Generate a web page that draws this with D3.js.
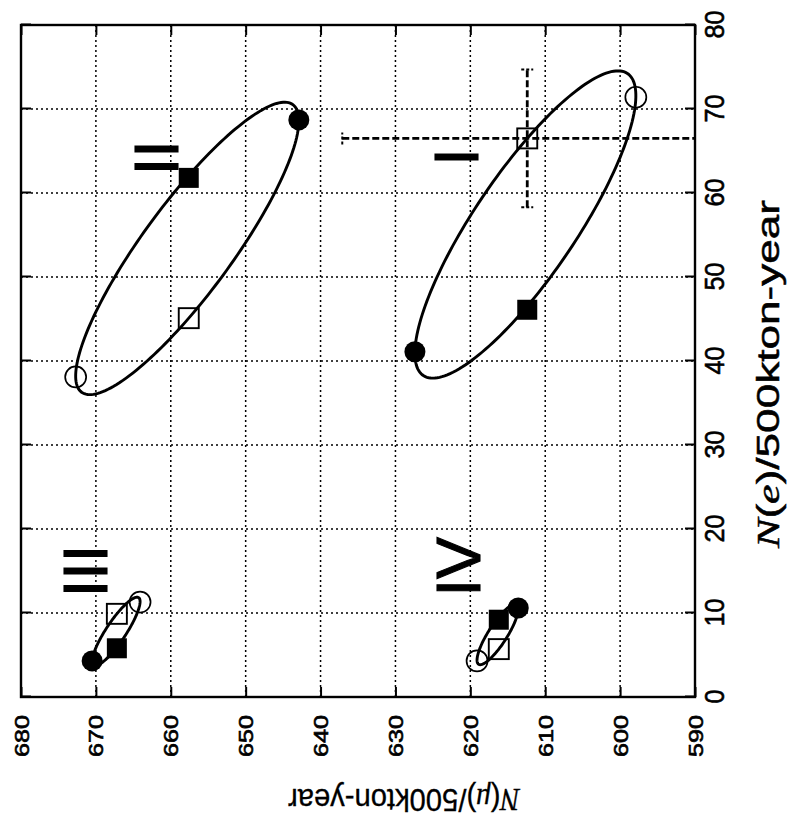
<!DOCTYPE html>
<html>
<head>
<meta charset="utf-8">
<script src="https://cdn.jsdelivr.net/npm/d3@7"></script>
<style>
  html, body { margin: 0; padding: 0; background: #fff; }
  svg { display: block; }
</style>
</head>
<body>
<svg id="chart" width="793" height="831"></svg>
<script>
// ---- axis ticks ----
const neTicks = [0, 10, 20, 30, 40, 50, 60, 70, 80];
const nmuTicks = [590, 600, 610, 620, 630, 640, 650, 660, 670, 680];

// ---- scenarios (one entry per ellipse) ----
const scenarioLabels = ["I", "II", "III", "IV"];
const labelNe  = [64.3, 64.2, 15.0, 15.5];
const labelNmu = [619.0, 659.0, 668.5, 618.7];

// open circle markers
const openCircleNe  = [71.4, 38.1, 11.3, 4.3];
const openCircleNmu = [597.9, 672.7, 664.1, 619.1];
// open square markers
const openSquareNe  = [66.5, 45.1, 9.9, 5.7];
const openSquareNmu = [612.4, 657.6, 667.2, 616.2];
// filled circle markers
const filledCircleNe  = [41.1, 68.7, 4.3, 10.6];
const filledCircleNmu = [627.4, 642.9, 670.5, 613.6];
// filled square markers
const filledSquareNe  = [46.1, 61.8, 5.8, 9.2];
const filledSquareNmu = [612.4, 657.6, 667.2, 616.2];

// statistical error bars on the open square of scenario I
const errScenario = [0];
const errNe  = [8.2];
const errNmu = [24.7];

// ---- layout ----
const svg = d3.select("#chart");
const W = 672;   // N(e) extent
const H = 674;   // N(mu) extent

const x = d3.scaleLinear().domain([0, 80]).range([0, W]);
const y = d3.scaleLinear().domain([590, 680]).range([H, 0]);

// the whole figure is laid on its side
const g = svg.append("g").attr("transform", "translate(21,697) rotate(-90)");

g.append("clipPath").attr("id", "plotClip")
  .append("rect").attr("x", 0).attr("y", 0).attr("width", W).attr("height", H);

// dotted grid
const grid = g.append("g")
  .attr("stroke", "#000").attr("stroke-width", 1.5)
  .attr("stroke-dasharray", "2,3").attr("fill", "none");
grid.selectAll("line.gx").data(neTicks.slice(1, -1)).join("line")
  .attr("class", "gx")
  .attr("x1", d => x(d)).attr("x2", d => x(d))
  .attr("y1", 0).attr("y2", H);
grid.selectAll("line.gy").data(nmuTicks.slice(1, -1)).join("line")
  .attr("class", "gy")
  .attr("x1", 0).attr("x2", W)
  .attr("y1", d => y(d)).attr("y2", d => y(d));

// axes with inward ticks on all four sides
function styleAxis(sel) {
  sel.select(".domain").remove();
  sel.selectAll(".tick line").attr("stroke", "#000").attr("stroke-width", 2);
}
const axB = g.append("g").attr("transform", `translate(0,${H})`)
  .call(d3.axisBottom(x).tickValues(neTicks).tickSizeInner(-10).tickSizeOuter(0).tickFormat(d3.format("d")))
  .call(styleAxis);
axB.selectAll(".tick text")
  .attr("y", 29).attr("dy", null)
  .attr("fill", "#000").attr("stroke", "#000").attr("stroke-width", 0.6)
  .style("font-family", "'Liberation Sans', Arial, sans-serif")
  .style("font-size", "27px")
  .attr("textLength", d => String(d).length * 14)
  .attr("lengthAdjust", "spacingAndGlyphs");

g.append("g")
  .call(d3.axisTop(x).tickValues(neTicks).tickSizeInner(-10).tickSizeOuter(0).tickFormat(""))
  .call(styleAxis);

const axL = g.append("g")
  .call(d3.axisLeft(y).tickValues(nmuTicks).tickSizeInner(-10).tickSizeOuter(0).tickFormat(d3.format("d")))
  .call(styleAxis);
axL.selectAll(".tick text")
  .attr("x", -18).attr("y", 7).attr("dy", null)
  .attr("fill", "#000").attr("stroke", "#000").attr("stroke-width", 0.6)
  .style("font-family", "'Liberation Sans', Arial, sans-serif")
  .style("font-size", "19.5px")
  .attr("textLength", d => String(d).length * 14)
  .attr("lengthAdjust", "spacingAndGlyphs");

g.append("g").attr("transform", `translate(${W},0)`)
  .call(d3.axisRight(y).tickValues(nmuTicks).tickSizeInner(-10).tickSizeOuter(0).tickFormat(""))
  .call(styleAxis);

// frame
g.append("rect").attr("x", 0).attr("y", 0).attr("width", W).attr("height", H)
  .attr("fill", "none").attr("stroke", "#000").attr("stroke-width", 2.4);

// ---- CP-phase ellipses through the four marker points ----
// centre = mean of the circle pair; conjugate half-axes point to the
// open circle (delta = 0) and the open square (delta = pi/2)
const deltas = d3.range(0, 360, 2).map(a => a * Math.PI / 180);
const ellipseLine = d3.line()
  .x(d => x(d.ne)).y(d => y(d.nmu))
  .curve(d3.curveLinearClosed);

const ellipses = scenarioLabels.map((_, i) => {
  const cNe = (openCircleNe[i] + filledCircleNe[i]) / 2;
  const cMu = (openCircleNmu[i] + filledCircleNmu[i]) / 2;
  const uNe = openCircleNe[i] - cNe, uMu = openCircleNmu[i] - cMu;
  const vNe = openSquareNe[i] - cNe, vMu = openSquareNmu[i] - cMu;
  return deltas.map(t => ({
    ne: cNe + uNe * Math.cos(t) + vNe * Math.sin(t),
    nmu: cMu + uMu * Math.cos(t) + vMu * Math.sin(t)
  }));
});

g.append("g").selectAll("path").data(ellipses).join("path")
  .attr("d", ellipseLine)
  .attr("fill", "none").attr("stroke", "#000").attr("stroke-width", 2.9);

// ---- error bars ----
const eb = g.append("g").attr("clip-path", "url(#plotClip)")
  .attr("stroke", "#000").attr("stroke-width", 2.8).attr("stroke-dasharray", "7,3");
errScenario.forEach((s, k) => {
  const cx = x(openSquareNe[s]), cy = y(openSquareNmu[s]);
  const x0 = x(openSquareNe[s] - errNe[k]), x1 = x(openSquareNe[s] + errNe[k]);
  const y0 = y(openSquareNmu[s] + errNmu[k]), y1 = y(openSquareNmu[s] - errNmu[k]);
  eb.append("line").attr("x1", x0).attr("x2", x1).attr("y1", cy).attr("y2", cy);
  eb.append("line").attr("x1", cx).attr("x2", cx).attr("y1", y0).attr("y2", y1);
  [[x0, cy, "v"], [x1, cy, "v"], [cx, y0, "h"], [cx, y1, "h"]].forEach(([px, py, o]) => {
    eb.append("line")
      .attr("stroke-dasharray", "3,2").attr("stroke-width", 2)
      .attr("x1", o === "v" ? px : px - 6).attr("x2", o === "v" ? px : px + 6)
      .attr("y1", o === "v" ? py - 6 : py).attr("y2", o === "v" ? py + 6 : py);
  });
});

// ---- markers ----
const idx = d3.range(scenarioLabels.length);
const R = 10.5, S = 20;
const mk = g.append("g");
mk.selectAll("circle.oc").data(idx).join("circle").attr("class", "oc")
  .attr("cx", i => x(openCircleNe[i])).attr("cy", i => y(openCircleNmu[i])).attr("r", R)
  .attr("fill", "none").attr("stroke", "#000").attr("stroke-width", 1.7);
mk.selectAll("rect.os").data(idx).join("rect").attr("class", "os")
  .attr("x", i => x(openSquareNe[i]) - S / 2).attr("y", i => y(openSquareNmu[i]) - S / 2)
  .attr("width", S).attr("height", S)
  .attr("fill", "none").attr("stroke", "#000").attr("stroke-width", 1.9);
mk.selectAll("circle.fc").data(idx).join("circle").attr("class", "fc")
  .attr("cx", i => x(filledCircleNe[i])).attr("cy", i => y(filledCircleNmu[i])).attr("r", R)
  .attr("fill", "#000");
mk.selectAll("rect.fs").data(idx).join("rect").attr("class", "fs")
  .attr("x", i => x(filledSquareNe[i]) - S / 2).attr("y", i => y(filledSquareNmu[i]) - S / 2)
  .attr("width", S).attr("height", S)
  .attr("fill", "#000");

// ---- scenario labels ----
g.append("g").selectAll("text").data(idx).join("text")
  .attr("x", i => x(labelNe[i])).attr("y", i => y(labelNmu[i]))
  .attr("text-anchor", "middle")
  .style("font-family", "'Liberation Sans', Arial, sans-serif")
  .style("font-size", "63px")
  .attr("fill", "#000").attr("stroke", "#000").attr("stroke-width", 1.1)
  .text(i => scenarioLabels[i]);

// ---- axis titles ----
function axisTitle(sel, sym) {
  sel.append("tspan").text("N")
    .style("font-family", "'Liberation Serif', 'Times New Roman', serif").style("font-style", "italic");
  sel.append("tspan").text("(");
  sel.append("tspan").text(sym)
    .style("font-family", "'Liberation Serif', 'Times New Roman', serif").style("font-style", "italic");
  sel.append("tspan").text(")/500kton-year");
}
g.append("text")
  .attr("x", 323).attr("y", 758)
  .attr("text-anchor", "middle")
  .attr("fill", "#000").attr("stroke", "#000").attr("stroke-width", 0.5)
  .style("font-family", "'Liberation Sans', Arial, sans-serif")
  .style("font-size", "32px")
  .attr("textLength", 348).attr("lengthAdjust", "spacingAndGlyphs")
  .call(axisTitle, "e");

g.append("text")
  .attr("transform", "translate(-92,383) rotate(-90)")
  .attr("text-anchor", "middle")
  .attr("fill", "#000").attr("stroke", "#000").attr("stroke-width", 0.3)
  .style("font-family", "'Liberation Sans', Arial, sans-serif")
  .style("font-size", "32px")
  .attr("textLength", 232).attr("lengthAdjust", "spacingAndGlyphs")
  .call(axisTitle, "\u03bc");
</script>
</body>
</html>
